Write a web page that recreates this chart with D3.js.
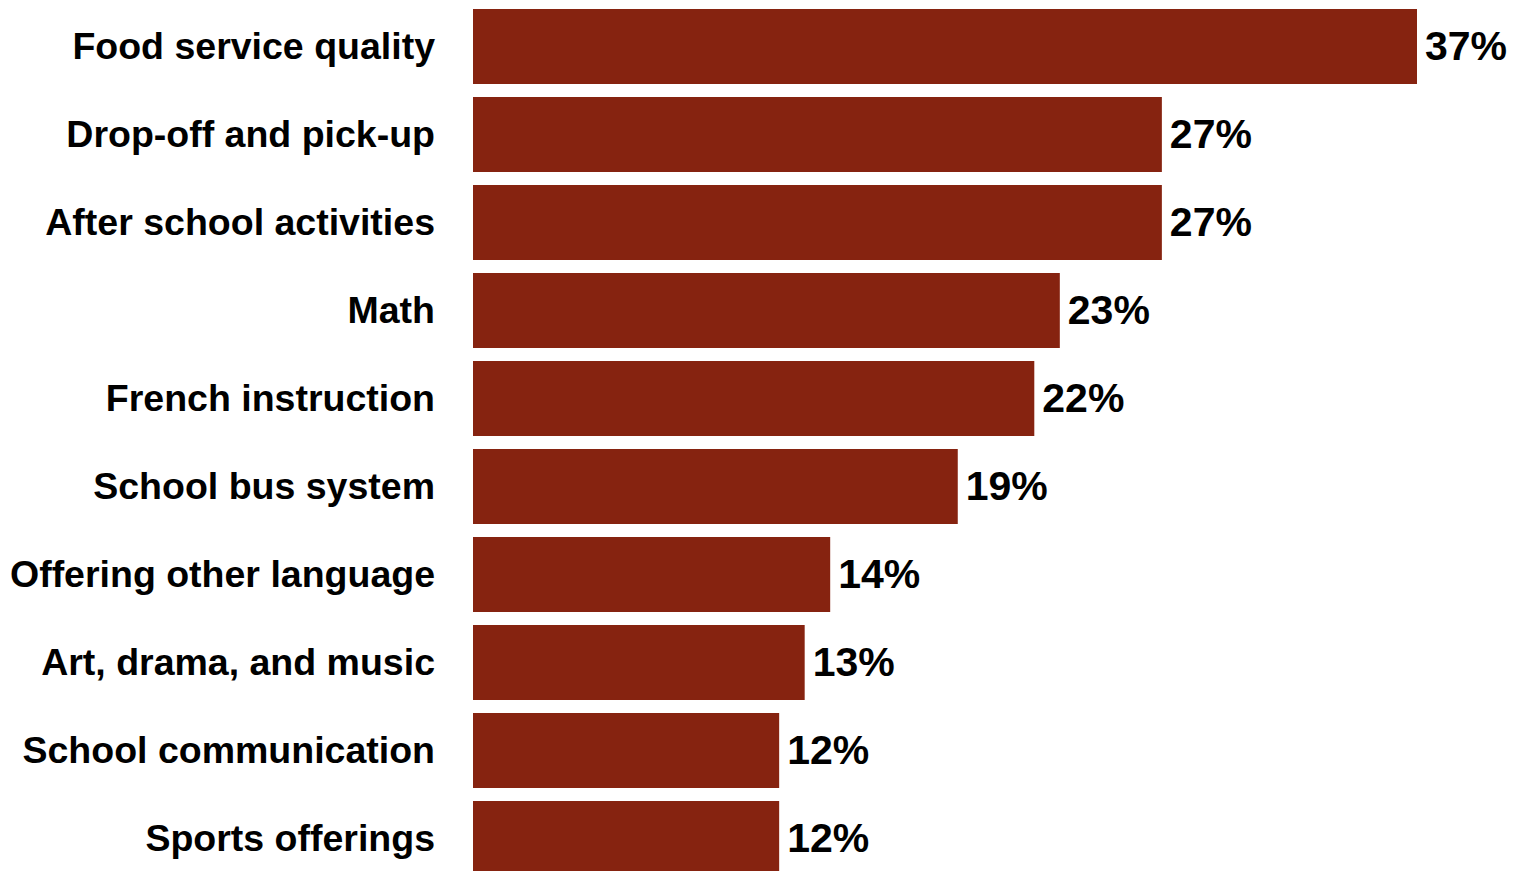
<!DOCTYPE html>
<html>
<head>
<meta charset="utf-8">
<script src="https://cdn.jsdelivr.net/npm/d3@7"></script>
<style>
  html, body { margin: 0; padding: 0; background: #ffffff; }
  svg { display: block; }
  text { font-family: "Liberation Sans", Arial, sans-serif; font-weight: bold; fill: #000; }
</style>
</head>
<body>
<svg id="chart" width="1514" height="871"></svg>
<script>
const categories = [
  "Food service quality",
  "Drop-off and pick-up",
  "After school activities",
  "Math",
  "French instruction",
  "School bus system",
  "Offering other language",
  "Art, drama, and music",
  "School communication",
  "Sports offerings"
];
const values = [37, 27, 27, 23, 22, 19, 14, 13, 12, 12];
const valueLabels = ["37%", "27%", "27%", "23%", "22%", "19%", "14%", "13%", "12%", "12%"];

const svg = d3.select("#chart");
const barColor = "#862310";

const x = d3.scaleLinear().domain([0, 37]).range([473, 1417]);
const pad = 13 / 88;
const y = d3.scaleBand()
  .domain(categories)
  .range([2.5, 882.5])
  .paddingInner(pad)
  .paddingOuter(pad / 2);

const data = categories.map((c, i) => ({ c, v: values[i], label: valueLabels[i] }));

svg.selectAll("rect.bar")
  .data(data)
  .join("rect")
  .attr("class", "bar")
  .attr("x", x(0))
  .attr("y", d => y(d.c))
  .attr("width", d => x(d.v) - x(0))
  .attr("height", y.bandwidth())
  .attr("fill", barColor);

svg.selectAll("text.cat")
  .data(data)
  .join("text")
  .attr("class", "cat")
  .attr("x", 435)
  .attr("y", d => y(d.c) + y.bandwidth() / 2)
  .attr("dy", "0.32em")
  .attr("text-anchor", "end")
  .style("font-size", "37.5px")
  .text(d => d.c);

svg.selectAll("text.val")
  .data(data)
  .join("text")
  .attr("class", "val")
  .attr("x", d => x(d.v) + 8)
  .attr("y", d => y(d.c) + y.bandwidth() / 2)
  .attr("dy", "0.34em")
  .attr("text-anchor", "start")
  .style("font-size", "41px")
  .text(d => d.label);
</script>
</body>
</html>
